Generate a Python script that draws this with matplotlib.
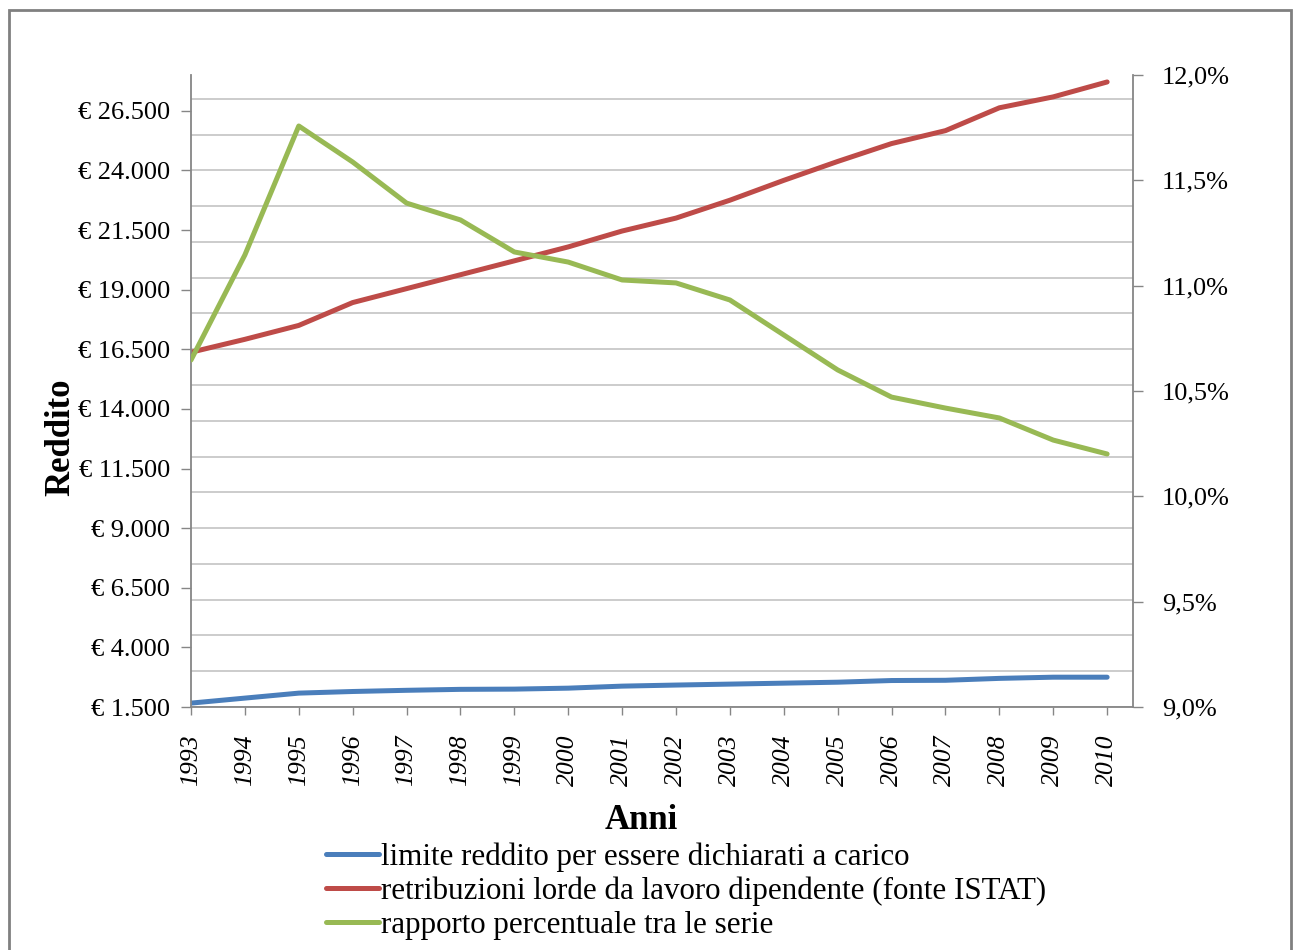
import matplotlib
matplotlib.use("Agg")
import matplotlib.pyplot as plt
from matplotlib.ticker import MultipleLocator, FixedLocator, FuncFormatter
from matplotlib.patches import Rectangle

plt.rcParams["font.family"] = ["Liberation Serif", "DejaVu Serif"]

# data
anni = list(range(1993, 2011))
limite_reddito = [1663, 1873, 2082, 2150, 2200, 2240, 2250, 2290, 2375, 2420,
                  2460, 2500, 2540, 2610, 2620, 2700, 2750, 2750]
retribuzioni = [16375, 16917, 17500, 18458, 19042, 19625, 20208, 20792, 21458, 22000,
                22750, 23583, 24375, 25125, 25667, 26625, 27083, 27708]
rapporto = [10.647, 11.146, 11.758, 11.587, 11.392, 11.312, 11.160, 11.112, 11.027, 11.013,
            10.932, 10.766, 10.600, 10.471, 10.419, 10.372, 10.267, 10.201]

left_ticks = list(range(1500, 28000, 2500))
right_ticks = [9.0, 9.5, 10.0, 10.5, 11.0, 11.5, 12.0]

blue = "#4A7EBB"
red = "#BE4B48"
green = "#98B954"
axis_grey = "#868686"
grid_grey = "#C8C8C8"

fig = plt.figure(figsize=(12.98, 9.5), dpi=100)
fig.patches.append(Rectangle((9 / 1298, -0.05), 1282 / 1298, 1.05 - 10 / 950,
                             transform=fig.transFigure, fill=False,
                             edgecolor="#808080", linewidth=2))

ax1 = fig.add_axes([191 / 1298, 1 - 707 / 950, 942 / 1298, 632 / 950])
ax1.plot(anni, limite_reddito, color=blue, lw=3.6, solid_capstyle="round",
         label="limite reddito per essere dichiarati a carico")
ax1.plot(anni, retribuzioni, color=red, lw=3.6, solid_capstyle="round",
         label="retribuzioni lorde da lavoro dipendente (fonte ISTAT)")
ax1.set_xlim(1993, 2010.48)
ax1.set_ylim(1500, 28000)

# labels every 2500, gridlines every 1500
ax1.yaxis.set_major_locator(FixedLocator(left_ticks))
ax1.yaxis.set_minor_locator(MultipleLocator(1500))
ax1.yaxis.remove_overlapping_locs = False
ax1.yaxis.set_major_formatter(
    FuncFormatter(lambda v, p: "€ " + f"{int(v):,}".replace(",", ".")))
ax1.grid(True, which="minor", axis="y", color=grid_grey, linewidth=1.3)
ax1.tick_params(axis="y", which="minor", length=0)
ax1.tick_params(axis="y", which="major", length=7, width=1, color=axis_grey,
                labelsize=19, pad=8)
ax1.set_xticks(anni)
ax1.set_xticklabels([str(a) for a in anni], rotation=90, style="italic",
                    fontsize=18.5)
ax1.tick_params(axis="x", length=6, width=1, color=axis_grey, pad=14)
for s in ["top", "right"]:
    ax1.spines[s].set_visible(False)
for s in ["left", "bottom"]:
    ax1.spines[s].set_color(axis_grey)
    ax1.spines[s].set_linewidth(1.3)
ax1.set_ylabel("Reddito", fontsize=25, fontweight="bold", labelpad=0)
ax1.yaxis.set_label_coords(-0.121, 0.427)
ax1.set_xlabel("Anni", fontsize=25, fontweight="bold")
ax1.xaxis.set_label_coords(0.478, -0.153)

ax2 = ax1.twinx()
ax2.plot(anni, rapporto, color=green, lw=3.6, solid_capstyle="round",
         label="rapporto percentuale tra le serie")
ax2.set_ylim(9.0, 12.0)
ax2.yaxis.set_major_locator(FixedLocator(right_ticks))
ax2.yaxis.set_major_formatter(
    FuncFormatter(lambda v, p: f"{v:.1f}".replace(".", ",") + "%"))
ax2.tick_params(axis="y", length=7, width=1, color=axis_grey, labelsize=19,
                pad=14)
for s in ["top", "left", "bottom"]:
    ax2.spines[s].set_visible(False)
ax2.spines["right"].set_color(axis_grey)
ax2.spines["right"].set_linewidth(1.3)

h1, l1 = ax1.get_legend_handles_labels()
h2, l2 = ax2.get_legend_handles_labels()
fig.legend(h1 + h2, l1 + l2, loc="upper left",
           bbox_to_anchor=(326 / 1298, 1 - 842 / 950), frameon=False,
           fontsize=22.3, handlelength=1.72, handletextpad=0.05,
           labelspacing=0.16, borderpad=0, borderaxespad=0)

fig.savefig("out.png", dpi=100)
